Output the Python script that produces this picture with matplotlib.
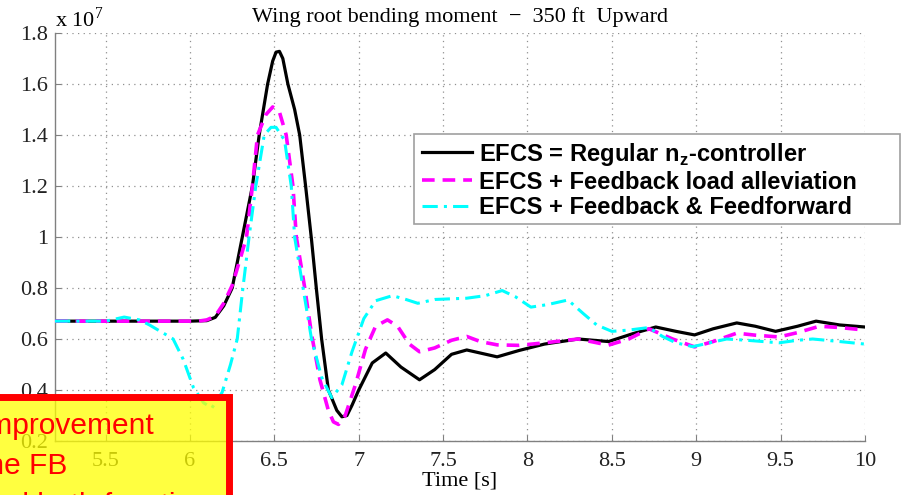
import matplotlib
matplotlib.use("Agg")
import matplotlib.pyplot as plt
from matplotlib.patches import Rectangle

# wing root bending moment time histories (values in units of 1e7)
t_reg = [5.2, 6.0, 6.1, 6.15, 6.2, 6.25, 6.31, 6.37, 6.41, 6.46, 6.49, 6.51, 6.53,
         6.55, 6.58, 6.62, 6.65, 6.685, 6.72, 6.75, 6.78, 6.82, 6.87, 6.9, 6.93,
         6.96, 7.0, 7.08, 7.16, 7.25, 7.36, 7.45, 7.55, 7.64, 7.72, 7.82, 7.95,
         8.1, 8.3, 8.48, 8.62, 8.76, 8.88, 8.99, 9.1, 9.24, 9.35, 9.47, 9.6,
         9.71, 9.85, 10.0]
m_reg = [0.67, 0.67, 0.672, 0.685, 0.73, 0.80, 1.0, 1.2, 1.4, 1.6, 1.69, 1.725, 1.728,
         1.70, 1.6, 1.5, 1.4, 1.2, 0.99, 0.79, 0.6, 0.4, 0.32, 0.295, 0.30,
         0.34, 0.4, 0.506, 0.545, 0.49, 0.44, 0.48, 0.54, 0.557, 0.545, 0.53, 0.555,
         0.58, 0.60, 0.59, 0.62, 0.647, 0.63, 0.616, 0.64, 0.663, 0.65, 0.63, 0.65,
         0.67, 0.655, 0.647]

t_fb = [5.2, 6.05, 6.1, 6.15, 6.2, 6.25, 6.3, 6.335, 6.37, 6.4, 6.45, 6.49, 6.53,
        6.57, 6.61, 6.63, 6.68, 6.72, 6.77, 6.82, 6.85, 6.88, 6.92, 6.98, 7.04,
        7.1, 7.17, 7.23, 7.3, 7.36, 7.45, 7.55, 7.64, 7.72, 7.82, 7.95, 8.1,
        8.3, 8.48, 8.6, 8.72, 8.86, 8.99, 9.1, 9.24, 9.35, 9.49, 9.6, 9.73,
        9.85, 10.0]
m_fb = [0.67, 0.67, 0.675, 0.69, 0.74, 0.81, 0.92, 1.0, 1.2, 1.4, 1.48, 1.51, 1.49,
        1.4, 1.2, 1.0, 0.8, 0.62, 0.44, 0.32, 0.275, 0.265, 0.30, 0.42, 0.56,
        0.65, 0.675, 0.65, 0.58, 0.55, 0.565, 0.595, 0.61, 0.59, 0.577, 0.575, 0.585,
        0.60, 0.576, 0.60, 0.64, 0.60, 0.569, 0.59, 0.623, 0.615, 0.608, 0.625, 0.65,
        0.645, 0.635]

t_ff = [5.2, 5.5, 5.61, 5.7, 5.76, 5.85, 5.9, 5.96, 6.02, 6.08, 6.13, 6.19, 6.24,
        6.28, 6.31, 6.35, 6.39, 6.44, 6.48, 6.51, 6.56, 6.6, 6.62, 6.67, 6.72,
        6.78, 6.84, 6.9, 6.96, 7.03, 7.1, 7.2, 7.28, 7.35, 7.45, 7.64, 7.75,
        7.85, 7.93, 8.02, 8.12, 8.24, 8.33, 8.41, 8.5, 8.6, 8.72, 8.8, 8.88,
        8.98, 9.08, 9.18, 9.3, 9.49, 9.6, 9.69, 9.85, 10.0]
m_ff = [0.67, 0.67, 0.686, 0.675, 0.655, 0.62, 0.6, 0.52, 0.41, 0.35, 0.33, 0.39, 0.5,
        0.6, 0.78, 1.0, 1.2, 1.4, 1.43, 1.43, 1.38, 1.2, 1.0, 0.8, 0.6,
        0.45, 0.37, 0.42, 0.55, 0.68, 0.75, 0.77, 0.755, 0.74, 0.755, 0.76, 0.77,
        0.79, 0.765, 0.725, 0.735, 0.753, 0.70, 0.655, 0.63, 0.635, 0.645, 0.61, 0.585,
        0.57, 0.585, 0.60, 0.595, 0.585, 0.595, 0.60, 0.59, 0.58]

labels = ["EFCS = Regular n$_{\\mathsf{z}}$-controller",
          "EFCS + Feedback load alleviation",
          "EFCS + Feedback & Feedforward"]
xticks = [5.5, 6, 6.5, 7, 7.5, 8, 8.5, 9, 9.5, 10]
yticks = [0.2, 0.4, 0.6, 0.8, 1.0, 1.2, 1.4, 1.6, 1.8]
ytick_labels = ["0.2", "0.4", "0.6", "0.8", "1", "1.2", "1.4", "1.6", "1.8"]
note_lines = ["Improvement", "the FB", "and both functions"]

plt.rcParams["font.family"] = "Liberation Serif"
plt.rcParams["mathtext.fontset"] = "custom"
plt.rcParams["mathtext.rm"] = "Liberation Serif"
plt.rcParams["mathtext.sf"] = "Liberation Sans:bold"

W, H = 903, 495
fig = plt.figure(figsize=(W / 100, H / 100), dpi=100)
ax = fig.add_axes([55 / W, 54 / H, 810 / W, 408 / H])

ax.plot(t_reg, m_reg, color="black", lw=2.3, label=labels[0], zorder=3)
ax.plot(t_fb, m_fb, color="#ff00ff", lw=2.6, dashes=(3.5, 2.2), label=labels[1], zorder=4)
ax.plot(t_ff, m_ff, color="#00ffff", lw=2.2, dashes=(5.0, 2.0, 1.0, 2.0), label=labels[2], zorder=5)

ax.set_xlim(5.2, 10)
ax.set_ylim(0.2, 1.8)
ax.set_xticks(xticks)
ax.set_xticklabels([f"{v:g}" for v in xticks])
ax.set_yticks(yticks)
ax.set_yticklabels(ytick_labels)
ax.tick_params(direction="in", length=4, color="#808080", labelsize=16, labelcolor="#222222")
ax.tick_params(axis="x", pad=8)
ax.tick_params(axis="y", pad=5)
ax.grid(True, color="#909090", linestyle=(0, (1, 3.5)), linewidth=0.9)
for side in ["top", "right"]:
    ax.spines[side].set_visible(False)
for side in ["left", "bottom"]:
    ax.spines[side].set_color("#808080")
    ax.spines[side].set_linewidth(1.0)

ax.set_title("Wing root bending moment  \u2212  350 ft  Upward", fontsize=16, pad=8)
ax.set_xlabel("Time [s]", fontsize=16, labelpad=0)
fig.text(55 / W, 1 - 27 / H, "x 10$^{7}$", fontsize=16, ha="left", va="baseline")

# legend frame is wider than its entries, so draw it separately
frame = Rectangle((414 / W, 1 - 224 / H), 486 / W, 90 / H, transform=fig.transFigure,
                  facecolor="white", edgecolor="#a0a0a0", lw=1.2, zorder=4)
fig.add_artist(frame)
leg = fig.legend(loc="upper left", bbox_to_anchor=(417 / W, 1 - 136 / H),
                 prop={"family": "Liberation Sans", "weight": "bold", "size": 17.1},
                 frameon=False, handlelength=2.1, handletextpad=0.3,
                 labelspacing=0.12, borderpad=0.2, borderaxespad=0)
leg.set_zorder(6)

# callout box at the lower left
box = Rectangle((-20 / W, -20 / H), 249.5 / W, (20 + 98) / H, transform=fig.transFigure,
                facecolor=(1, 1, 0, 0.75), edgecolor="red", lw=5, clip_on=False, zorder=10)
fig.add_artist(box)
fig.text(-21 / W, 1 - 412 / H, "\n".join(note_lines), color="red", fontsize=21.5,
         family="Liberation Sans", ha="left", va="top", linespacing=1.55, zorder=11)

fig.savefig("out.png", dpi=100)
